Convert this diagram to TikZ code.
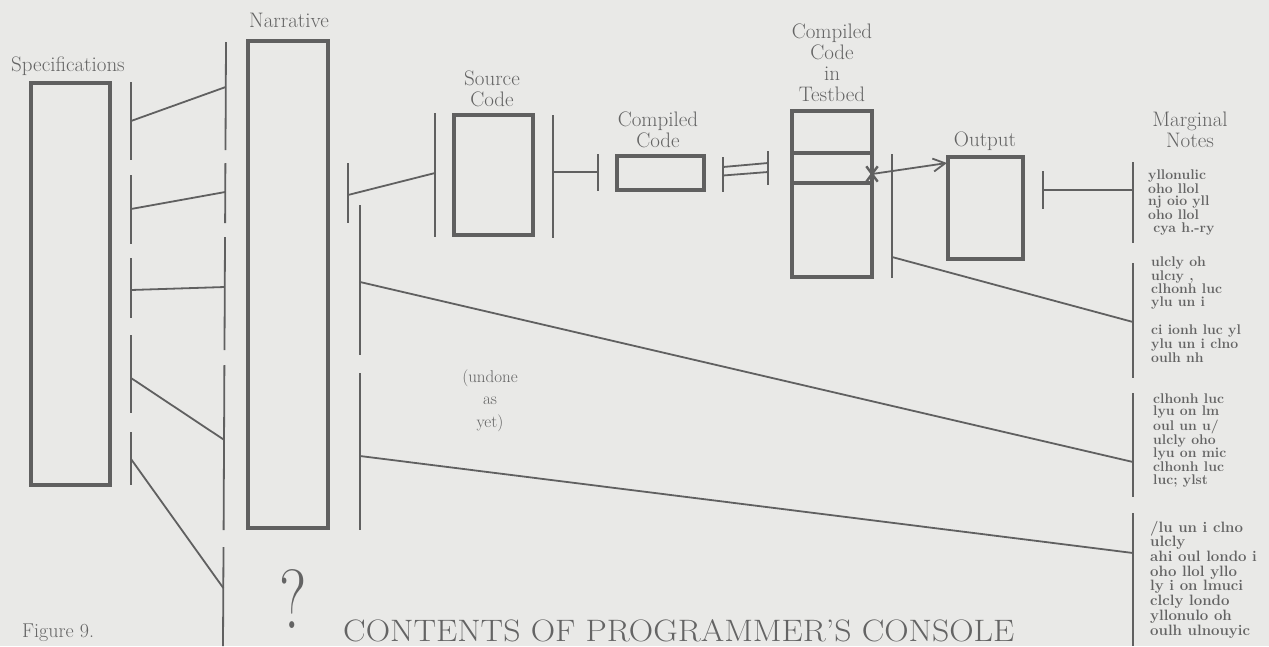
\documentclass[tikz,border=0pt]{standalone}
\usepackage{graphicx}
\usetikzlibrary{arrows.meta,shapes.misc}
\definecolor{bg}{RGB}{233,233,231}
\definecolor{ink}{RGB}{96,96,96}
\definecolor{txt}{RGB}{100,100,100}
\tikzset{
  box/.style={draw=ink, line width=3.3pt, inner sep=0pt},
  boxline/.style={draw=ink, line width=3.3pt},
  bar/.style={draw=ink, line width=1.8pt},
  lbl/.style={text=txt, inner sep=0pt, align=center, font=\fontsize{21}{21}\selectfont},
  note/.style={text=txt, inner sep=0pt, align=left, font=\fontsize{14}{12.5}\selectfont\bfseries},
}
\begin{document}
\begin{tikzpicture}[x=1pt, y=-1pt]
\fill[bg] (0,0) rectangle (1269,646);
\useasboundingbox (0,0) rectangle (1269,646);

% ---------- boxes ----------
\node[box, minimum width=79pt, minimum height=402pt] (spec) at (70.5,284) {};
\node[box, minimum width=80pt, minimum height=487pt] (narr) at (288,284.5) {};
\node[box, minimum width=79pt, minimum height=120pt] (src)  at (493.5,175) {};
\node[box, minimum width=87pt, minimum height=34pt]  (comp) at (660.5,173) {};
\node[box, minimum width=80pt, minimum height=166pt] (test) at (832,194) {};
\node[box, minimum width=75pt, minimum height=102pt] (out)  at (985.5,208) {};
\coordinate (tl1) at (792,153); \coordinate (tr1) at (872,153);
\coordinate (tl2) at (792,183); \coordinate (tr2) at (872,183);
\draw[boxline] (tl1) -- (tr1);
\draw[boxline] (tl2) -- (tr2);

% ---------- labels (anchor base = baseline of last line) ----------
\node[lbl, anchor=base] (specl) at (68,71) {Specifications};
\node[lbl, anchor=base] (narrl) at (289,27) {Narrative};
\node[lbl, anchor=base] (srcl)  at (492,106) {Source\\Code};
\node[lbl, anchor=base] (compl) at (658,147) {Compiled\\Code};
\node[lbl, anchor=base, font=\fontsize{21}{20.7}\selectfont] (testl) at (832,101) {Compiled\\Code\\in\\Testbed};
\node[lbl, anchor=base] (outl)  at (985,146) {Output};
\node[lbl, anchor=base] (margl) at (1190,147) {Marginal\\Notes};
\node[lbl, anchor=base, font=\fontsize{17}{22.5}\selectfont] (undone) at (490,427) {(undone\\as\\yet)};

% ---------- left dashed dividers ----------
\foreach \a/\b [count=\i] in {82/160,175/244,258/318,335/413,432/485}{
  \coordinate (La\i) at (131,\a); \coordinate (Lb\i) at (131,\b);
  \draw[bar] (La\i) -- (Lb\i);
}
\coordinate (R1a) at (226,42);    \coordinate (R1b) at (225.5,150);
\coordinate (R2a) at (225.4,163); \coordinate (R2b) at (225.1,223);
\coordinate (R3a) at (225,237);   \coordinate (R3b) at (224.5,350);
\coordinate (R4a) at (224.4,365); \coordinate (R4b) at (223.6,530);
\coordinate (R5a) at (223.5,547); \coordinate (R5b) at (223,646);
\foreach \i in {1,...,5}{ \draw[bar] (R\i a) -- (R\i b); }

% spec -> narrative links
\coordinate (s1) at (131,121); \coordinate (t1) at (225.7,87);
\coordinate (s2) at (131,209); \coordinate (t2) at (225.2,192);
\coordinate (s3) at (131,290); \coordinate (t3) at (224.8,287);
\coordinate (s4) at (131,378); \coordinate (t4) at (224.3,440);
\coordinate (s5) at (131,459); \coordinate (t5) at (223.3,588);
\foreach \i in {1,...,5}{ \draw[bar] (s\i) -- (t\i); }

% ---------- narrative -> source ----------
\coordinate (nb1a) at (348,163); \coordinate (nb1b) at (348,223);
\draw[bar] (nb1a) -- (nb1b);
\coordinate (nb2a) at (360,205); \coordinate (nb2b) at (360,355);
\coordinate (nb3a) at (360,373); \coordinate (nb3b) at (360,530);
\draw[bar] (nb2a) -- (nb2b);
\draw[bar] (nb3a) -- (nb3b);
\coordinate (sbLa) at (435,113); \coordinate (sbLb) at (435,237);
\draw[bar] (sbLa) -- (sbLb);
\coordinate (c1a) at (348,195); \coordinate (c1b) at (435,173);
\draw[bar] (c1a) -- (c1b);

% ---------- source -> compiled ----------
\coordinate (sbRa) at (553,115); \coordinate (sbRb) at (553,238);
\draw[bar] (sbRa) -- (sbRb);
\coordinate (cbLa) at (598,154); \coordinate (cbLb) at (598,191);
\draw[bar] (cbLa) -- (cbLb);
\coordinate (c2a) at (553,172); \coordinate (c2b) at (598,172);
\draw[bar] (c2a) -- (c2b);

% ---------- compiled -> testbed (double) ----------
\coordinate (dLa) at (723,157); \coordinate (dLb) at (723,192);
\coordinate (dRa) at (768,151); \coordinate (dRb) at (768,185);
\draw[bar] (dLa) -- (dLb);
\draw[bar] (dRa) -- (dRb);
\coordinate (d1a) at (723,167); \coordinate (d1b) at (768,163);
\coordinate (d2a) at (723,175.5); \coordinate (d2b) at (768,172);
\draw[bar] (d1a) -- (d1b);
\draw[bar] (d2a) -- (d2b);

% ---------- testbed -> output ----------
\coordinate (tbRa) at (892,154); \coordinate (tbRb) at (892,278);
\draw[bar] (tbRa) -- (tbRb);
\node[cross out, draw=ink, line width=2.4pt, minimum width=9pt, minimum height=13pt, inner sep=0pt] (xm) at (872,174) {};
\coordinate (outin) at (947,163);
\draw[bar, -{Straight Barb[length=12pt,width=13pt,line width=1.8pt]}] (xm.center) -- (outin);

% ---------- output -> marginal ----------
\coordinate (obLa) at (1043,171); \coordinate (obLb) at (1043,209);
\draw[bar] (obLa) -- (obLb);
\coordinate (m1c) at (1133,190);
\coordinate (o1) at (1043,190);
\draw[bar] (o1) -- (m1c);

% marginal bars
\foreach \a/\b [count=\i] in {162/243,263/378,393/497,513/646}{
  \coordinate (Ma\i) at (1133,\a); \coordinate (Mb\i) at (1133,\b);
  \draw[bar] (Ma\i) -- (Mb\i);
}

% long connectors
\coordinate (tb1) at (892,257);  \coordinate (m2c) at (1133,322);
\coordinate (nl1) at (360,282);  \coordinate (m3c) at (1133,462);
\coordinate (nl2) at (360,456);  \coordinate (m4c) at (1133,553);
\draw[bar] (tb1) -- (m2c);
\draw[bar] (nl1) -- (m3c);
\draw[bar] (nl2) -- (m4c);

% ---------- marginal notes (anchor base = last line) ----------
\node[note, anchor=base west] (n1) at (1148,232) {yllonulic\\oho llol\\nj oio yll\\oho llol\\\ cya h.-ry};
\node[note, anchor=base west] (n2) at (1151,362) {ulcly oh\\ulcıy ,\\clhonh luc\\ylu un i\\[15pt]ci ionh luc yl\\ylu un i clno\\oulh nh};
\node[note, anchor=base west] (n3) at (1153,484) {clhonh luc\\lyu on lm\\oul un u/\\ulcly oho\\lyu on mic\\clhonh luc\\luc; ylst};
\node[note, anchor=base west, font=\fontsize{15}{14.7}\selectfont\bfseries] (n4) at (1150,635) {/lu un i clno\\ulcly\\ahi oul londo i\\oho llol yllo\\ly i on lmuci\\clcly londo\\yllonulo oh\\oulh ulnouyic};

% ---------- bottom texts ----------
\node[text=txt, inner sep=0pt, anchor=base west, font=\fontsize{20}{20}\selectfont] (fig) at (22,637) {Figure 9.};
\node[text=txt, inner sep=0pt, anchor=base] (qm) at (293,628) {\scalebox{0.75}[1]{\fontsize{84}{84}\selectfont ?}};
\node[text=txt, inner sep=0pt, anchor=base west, font=\fontsize{31}{31}\selectfont] (title) at (343,641) {\scalebox{1.09}[1]{CONTENTS OF PROGRAMMER'S CONSOLE}};
\end{tikzpicture}
\end{document}
